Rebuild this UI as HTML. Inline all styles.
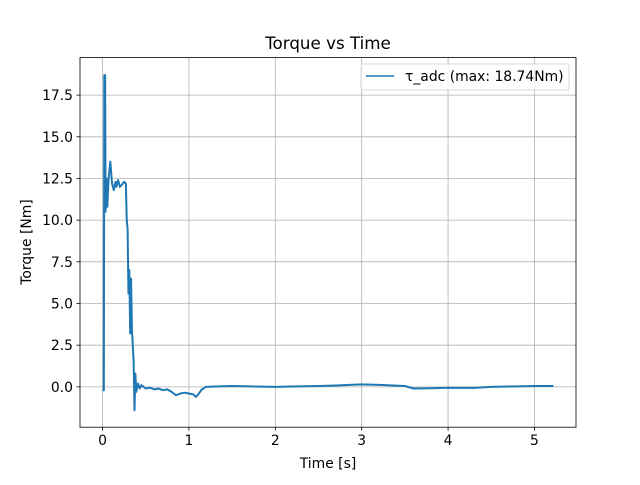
<!DOCTYPE html>
<html><head><meta charset="utf-8"><style>
body{margin:0;background:#fff}
svg text{font-family:"DejaVu Sans","Liberation Sans",sans-serif;fill:#000}
</style></head><body>
<svg id="c" width="640" height="480" xmlns="http://www.w3.org/2000/svg"></svg>
<script>
const times=[0,0.015,0.02,0.03,0.035,0.045,0.055,0.07,0.09,0.11,0.13,0.15,0.16,0.18,0.2,0.22,0.25,0.27,0.28,0.29,0.3,0.31,0.32,0.33,0.34,0.36,0.37,0.38,0.39,0.41,0.43,0.45,0.5,0.55,0.6,0.65,0.7,0.75,0.8,0.85,0.9,0.95,1.0,1.05,1.08,1.1,1.15,1.2,1.3,1.5,1.7,2.0,2.2,2.5,2.7,3.0,3.2,3.3,3.5,3.6,3.8,4.0,4.3,4.5,4.8,5.0,5.22];
const torque=[-0.2,-0.2,18.7,18.7,10.5,12.5,10.8,12.5,13.5,12.2,11.8,12.3,12.0,12.4,12.0,12.1,12.3,12.2,10.0,9.5,5.6,7.0,3.2,6.5,3.5,1.5,-1.4,0.8,-0.3,0.2,-0.1,0.1,-0.1,-0.05,-0.15,-0.1,-0.2,-0.15,-0.3,-0.5,-0.4,-0.35,-0.4,-0.45,-0.6,-0.5,-0.15,0,0.02,0.05,0.03,0,0.02,0.05,0.08,0.15,0.12,0.1,0.05,-0.1,-0.08,-0.05,-0.06,0,0.03,0.05,0.05];
const xTicks=[0,1,2,3,4,5];
const yTicks=[0,2.5,5,7.5,10,12.5,15,17.5];
const yTickLabels=["0.0","2.5","5.0","7.5","10.0","12.5","15.0","17.5"];
const L=80,R=576,T=57.6,B=427.2;
const xmin=-0.261,xmax=5.481,ymin=-2.42,ymax=19.75;
const X=t=>L+(t-xmin)/(xmax-xmin)*(R-L);
const Y=v=>B-(v-ymin)/(ymax-ymin)*(B-T);
const svg=document.getElementById('c');const NS='http://www.w3.org/2000/svg';
function mk(tag,a,p){const e=document.createElementNS(NS,tag);for(const k in a)e.setAttribute(k,a[k]);(p||svg).appendChild(e);return e;}
xTicks.forEach(t=>{const x=X(t);
const g=mk('line',{x1:x,x2:x,y1:T,y2:B,stroke:'#b0b0b0','stroke-width':0.8});


mk('line',{x1:x,x2:x,y1:B,y2:B+3.5,stroke:'#000','stroke-width':0.8});
const tx=mk('text',{x:x,y:B+18,'text-anchor':'middle','font-size':13.9});tx.textContent=t;

});
yTicks.forEach((v,i)=>{const y=Y(v);
const g=mk('line',{x1:L,x2:R,y1:y,y2:y,stroke:'#b0b0b0','stroke-width':0.8});


mk('line',{x1:L-3.5,x2:L,y1:y,y2:y,stroke:'#000','stroke-width':0.8});
const tx=mk('text',{x:L-7,y:y+5,'text-anchor':'end','font-size':13.9});tx.textContent=yTickLabels[i];

});
const pl=mk('polyline',{points:times.map((t,i)=>X(t)+','+Y(torque[i])).join(' '),fill:'none',stroke:'#1f77b4','stroke-width':2,'stroke-linejoin':'round'});


const fr=mk('rect',{x:L,y:T,width:R-L,height:B-T,fill:'none',stroke:'#000','stroke-width':0.8});


const ti=mk('text',{x:(L+R)/2,y:49,'text-anchor':'middle','font-size':16.7});ti.textContent='Torque vs Time';


const xl=mk('text',{x:(L+R)/2,y:468,'text-anchor':'middle','font-size':13.9});xl.textContent='Time [s]';


const yl=mk('text',{x:0,y:0,'text-anchor':'middle','font-size':13.9,transform:'translate(31,242) rotate(-90)'});yl.textContent='Torque [Nm]';


const lg=mk('g',{});


mk('rect',{x:361,y:64,width:208,height:26,rx:2,fill:'#fff','fill-opacity':0.8,stroke:'#ccc','stroke-width':0.8},lg);
mk('line',{x1:366,x2:394,y1:76,y2:76,stroke:'#1f77b4','stroke-width':1.5},lg);
const lt=mk('text',{x:405,y:81,'font-size':13.9},lg);lt.textContent='τ_adc (max: 18.74Nm)';


</script>
</body></html>
